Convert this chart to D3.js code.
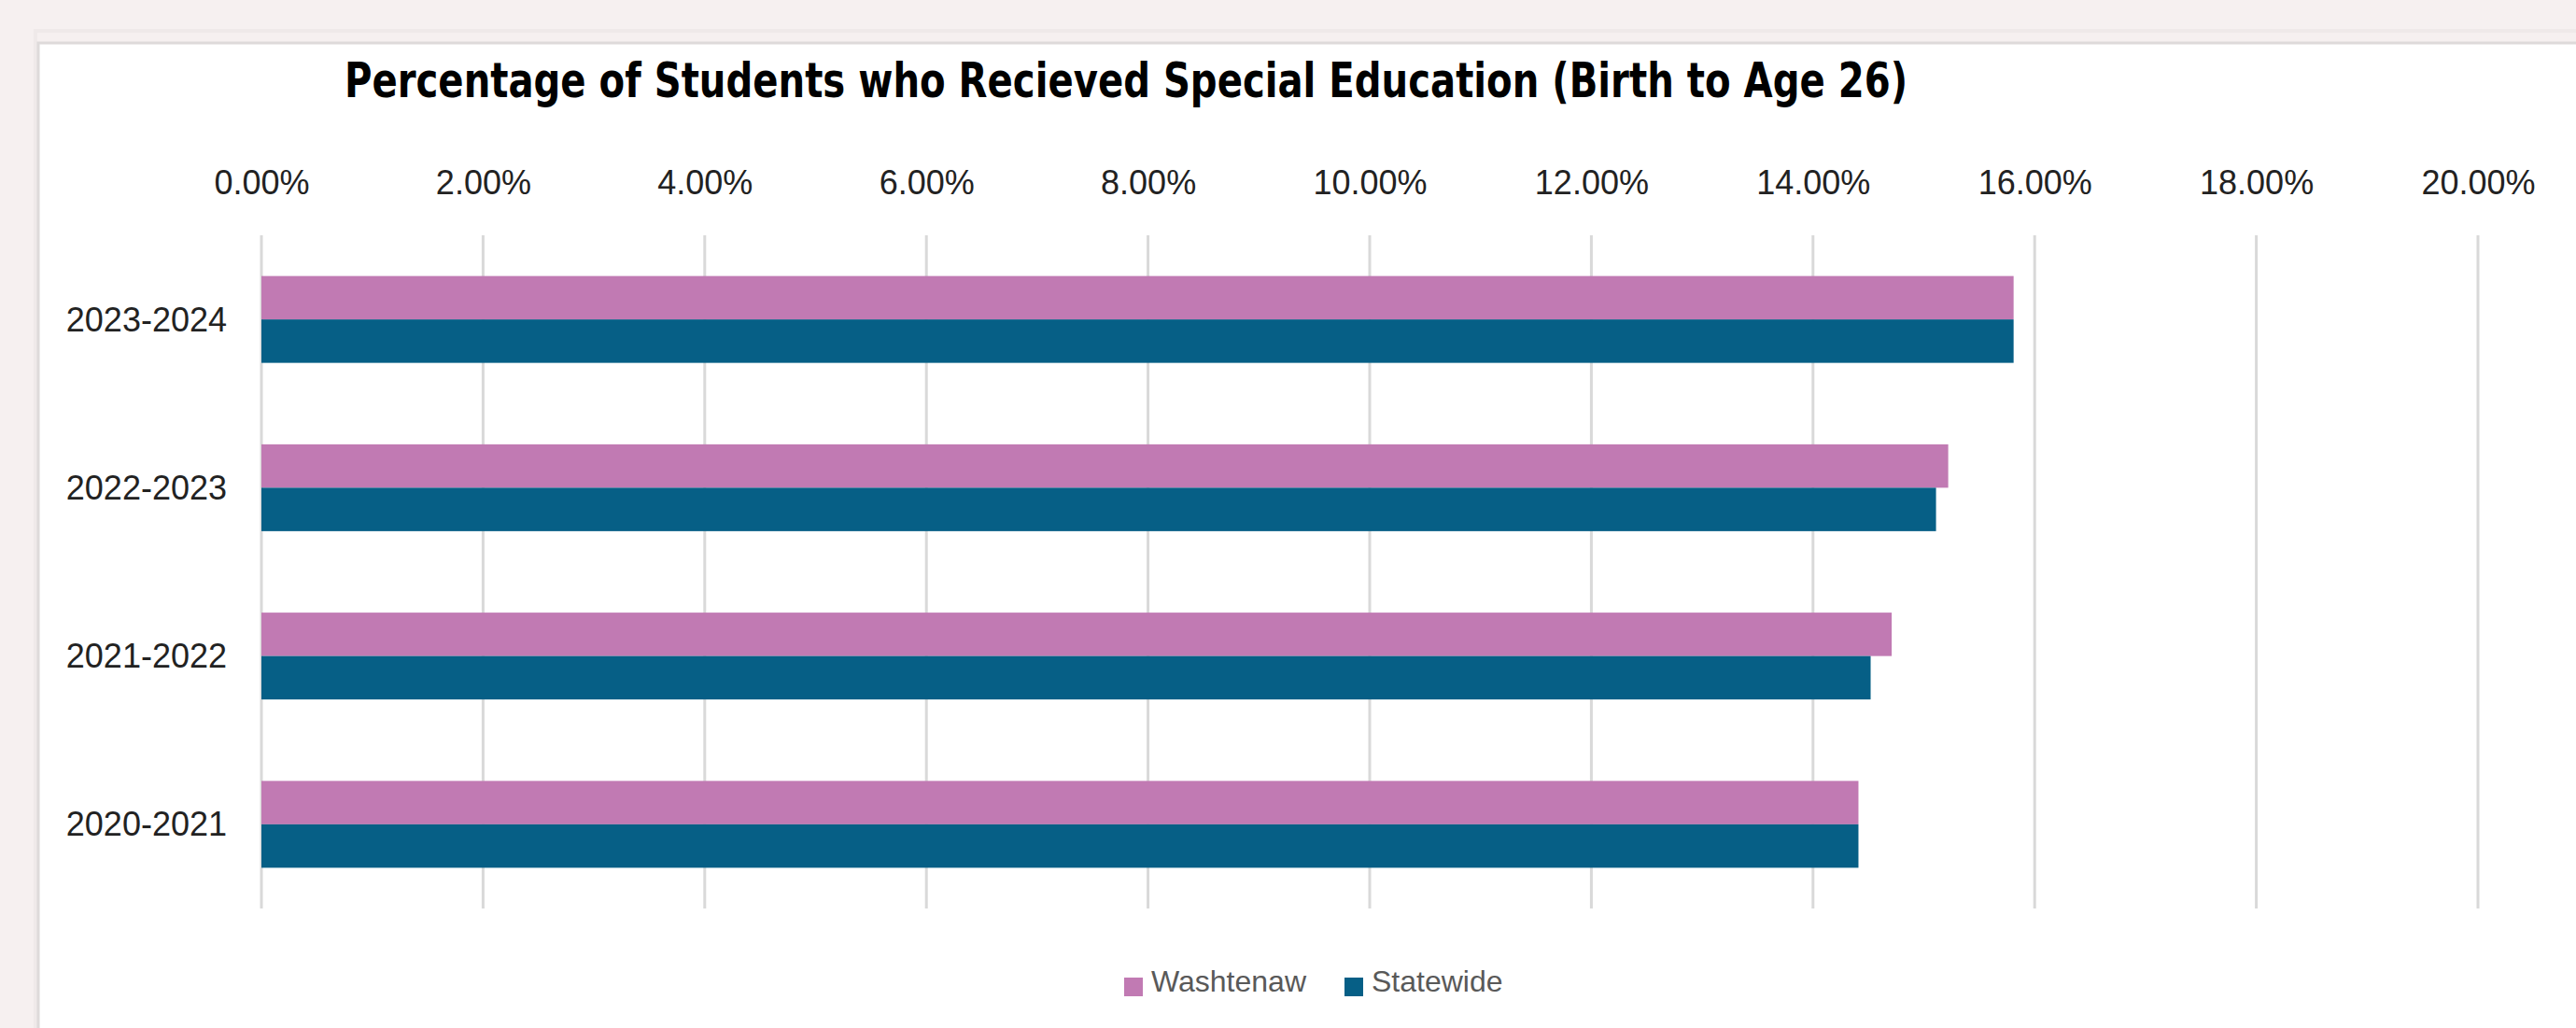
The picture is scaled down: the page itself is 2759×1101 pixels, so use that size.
<!DOCTYPE html>
<html>
<head>
<meta charset="utf-8">
<script src="https://cdn.jsdelivr.net/npm/d3@7"></script>
<style>
  html, body { margin: 0; padding: 0; background: #f6f0f0; }
  svg { display: block; }
</style>
</head>
<body>
<svg id="chart" width="2759" height="1101"></svg>
<script>
// ---- data ----
const categories = ["2023-2024", "2022-2023", "2021-2022", "2020-2021"];
const seriesNames = ["Washtenaw", "Statewide"];
const washtenaw = [0.1581, 0.1522, 0.1471, 0.1441];
const statewide = [0.1581, 0.1511, 0.1452, 0.1441];
const tickValues = [0, 0.02, 0.04, 0.06, 0.08, 0.10, 0.12, 0.14, 0.16, 0.18, 0.20];
const title = "Percentage of Students who Recieved Special Education (Birth to Age 26)";

const colors = { "Washtenaw": "#c17ab3", "Statewide": "#065f86" };

const svg = d3.select("#chart");
const W = 2759, H = 1101;

// background & card
svg.append("rect").attr("x", 0).attr("y", 0).attr("width", W).attr("height", H).attr("fill", "#f6f0f0");
svg.append("rect").attr("x", 38).attr("y", 33).attr("width", W).attr("height", H)
  .attr("fill", "none").attr("stroke", "#efe9e9").attr("stroke-width", 4);
svg.append("rect").attr("x", 41).attr("y", 46).attr("width", W).attr("height", H)
  .attr("fill", "#ffffff").attr("stroke", "#dedada").attr("stroke-width", 3);

// scales
const x = d3.scaleLinear().domain([0, 0.20]).range([280, 2654]);
const y = d3.scaleBand().domain(categories).range([252, 973]).paddingInner(0.484).paddingOuter(0.242);
const ySub = d3.scaleBand().domain(seriesNames).range([0, y.bandwidth()]);

// gridlines
svg.append("g").selectAll("line").data(tickValues).join("line")
  .attr("x1", d => x(d)).attr("x2", d => x(d))
  .attr("y1", 252).attr("y2", 973)
  .attr("stroke", "#d9d9d9").attr("stroke-width", 3);

// top axis labels
const xAxis = d3.axisTop(x).tickValues(tickValues).tickFormat(d3.format(".2%")).tickSize(0).tickPadding(0);
const gx = svg.append("g").attr("transform", "translate(0,208)").call(xAxis);
gx.select(".domain").remove();
gx.selectAll("text")
  .attr("font-family", "'Liberation Sans', Arial, sans-serif")
  .attr("font-size", 36).attr("fill", "#222222").attr("dy", "0");

// left axis labels
const yAxis = d3.axisLeft(y).tickSize(0).tickPadding(37);
const gy = svg.append("g").attr("transform", "translate(280,0)").call(yAxis);
gy.select(".domain").remove();
gy.selectAll("text")
  .attr("font-family", "'Liberation Sans', Arial, sans-serif")
  .attr("font-size", 36).attr("fill", "#222222").attr("dy", "0.35em");

// bars
const rows = categories.map((c, i) => ({
  cat: c,
  vals: [{ s: "Washtenaw", v: washtenaw[i] }, { s: "Statewide", v: statewide[i] }]
}));
const grp = svg.append("g").selectAll("g").data(rows).join("g")
  .attr("transform", d => `translate(0,${y(d.cat)})`);
grp.selectAll("rect").data(d => d.vals).join("rect")
  .attr("x", x(0))
  .attr("y", d => ySub(d.s))
  .attr("width", d => x(d.v) - x(0))
  .attr("height", ySub.bandwidth())
  .attr("fill", d => colors[d.s]);

// title
const t = svg.append("text")
  .attr("x", 369).attr("y", 104)
  .attr("font-family", "'Liberation Sans Narrow', 'DejaVu Sans Condensed', 'Roboto Condensed', sans-serif")
  .attr("font-weight", "bold")
  .attr("font-size", 51)
  .attr("fill", "#000000")
  .attr("textLength", 1674)
  .attr("lengthAdjust", "spacingAndGlyphs")
  .text(title);

// legend
const legendX = [1204, 1440];
const lg = svg.append("g").selectAll("g").data(seriesNames).join("g")
  .attr("transform", (d, i) => `translate(${legendX[i]},0)`);
lg.append("rect").attr("x", 0).attr("y", 1047).attr("width", 20).attr("height", 20)
  .attr("fill", d => colors[d]);
lg.append("text").attr("x", 29).attr("y", 1062)
  .attr("font-family", "'Liberation Sans', Arial, sans-serif")
  .attr("font-size", 32).attr("fill", "#595959")
  .text(d => d);
</script>
</body>
</html>
